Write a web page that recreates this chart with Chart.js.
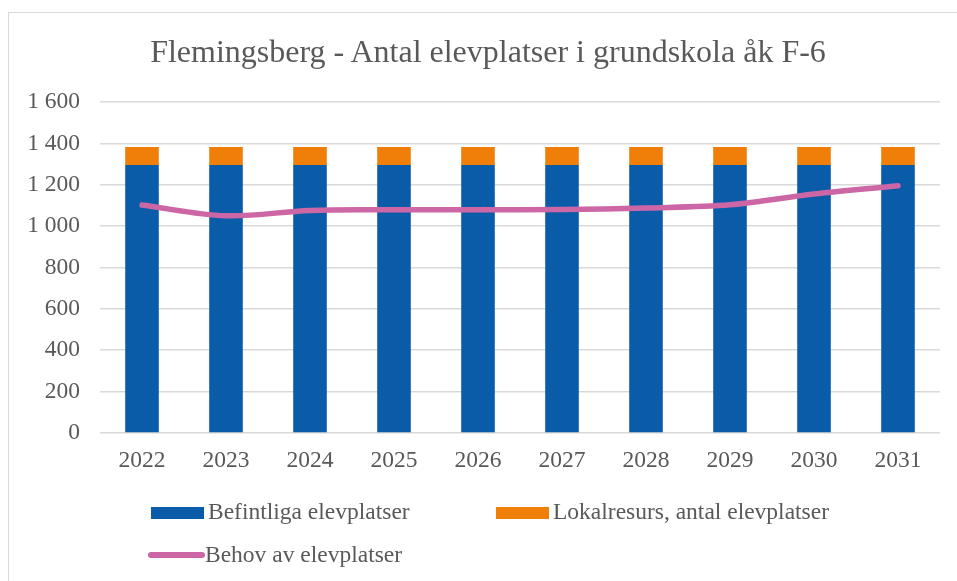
<!DOCTYPE html>
<html lang="sv">
<head>
<meta charset="utf-8">
<title>Flemingsberg - Antal elevplatser i grundskola åk F-6</title>
<script src="https://cdn.jsdelivr.net/npm/chart.js@4/dist/chart.umd.min.js"></script>
<style>
  html, body { margin: 0; padding: 0; background: #ffffff; }
  #wrap { position: relative; width: 957px; height: 581px; overflow: hidden; }
  #frame { position: absolute; left: 8px; top: 12px; width: 980px; height: 620px;
           border: 1px solid #d9d9d9; box-sizing: border-box; }
  #chart { position: absolute; left: 0; top: 0; }
  #title { position: absolute; left: 0; top: 35px; width: 976px; text-align: center;
           font-family: "Liberation Serif", "Times New Roman", serif; font-size: 32px;
           line-height: 1; color: #595959; white-space: nowrap; }
  .lg { position: absolute; font-family: "Liberation Serif", "Times New Roman", serif;
        font-size: 23.5px; color: #595959; white-space: nowrap; line-height: 1; }
  .sw { position: absolute; }
</style>
</head>
<body>
<div id="wrap">
  <div id="frame"></div>
  <canvas id="chart" width="957" height="581"></canvas>
  <div id="title"></div>
  <div id="legend"></div>
</div>
<script>
// Diagrammets rubrik
const titleText = 'Flemingsberg - Antal elevplatser i grundskola åk F-6';
// Årtal på x-axeln
const years = ['2022', '2023', '2024', '2025', '2026', '2027', '2028', '2029', '2030', '2031'];
// Befintliga elevplatser per år
const befintliga = [1295, 1295, 1295, 1295, 1295, 1295, 1295, 1295, 1295, 1295];
// Lokalresurs, antal elevplatser per år
const lokalresurs = [87, 87, 87, 87, 87, 87, 87, 87, 87, 87];
// Behov av elevplatser per år
const behov = [1102, 1050, 1076, 1079, 1079, 1080, 1088, 1103, 1155, 1195];
// Y-axelns skala
const yMin = 0, yMax = 1600, yStep = 200;

const FONT = '"Liberation Serif", "Times New Roman", serif';
const TEXT = '#595959';
const GRID = '#d9d9d9';

const series = [
  { label: 'Befintliga elevplatser', color: '#0b5ca8', kind: 'bar' },
  { label: 'Lokalresurs, antal elevplatser', color: '#f07f09', kind: 'bar' },
  { label: 'Behov av elevplatser', color: '#cd66a5', kind: 'line' }
];

const fmt = v => String(v).replace(/\B(?=(\d{3})+(?!\d))/g, '\u00a0');

document.getElementById('title').textContent = titleText;

const chart = new Chart(document.getElementById('chart'), {
  type: 'bar',
  data: {
    labels: years,
    datasets: [
      {
        label: series[0].label, data: befintliga, backgroundColor: series[0].color,
        stack: 's', order: 1, categoryPercentage: 0.4, barPercentage: 1, borderWidth: 0
      },
      {
        label: series[1].label, data: lokalresurs, backgroundColor: series[1].color,
        stack: 's', order: 1, categoryPercentage: 0.4, barPercentage: 1, borderWidth: 0
      },
      {
        type: 'line', label: series[2].label, data: behov, borderColor: series[2].color,
        backgroundColor: series[2].color, borderWidth: 5.5, pointRadius: 0,
        tension: 0.35, borderCapStyle: 'round', borderJoinStyle: 'round', fill: false, order: 0
      }
    ]
  },
  options: {
    responsive: false,
    animation: false,
    layout: { padding: { left: 0, right: 17, top: 102, bottom: 0 } },
    plugins: {
      legend: { display: false },
      tooltip: { enabled: false },
      title: { display: false }
    },
    scales: {
      x: {
        stacked: true,
        grid: { display: false, drawTicks: false },
        border: { display: false },
        ticks: { color: TEXT, font: { family: FONT, size: 23.5 }, padding: 14, maxRotation: 0 },
        afterFit: s => { s.height = 148; }
      },
      y: {
        stacked: true,
        min: yMin, max: yMax,
        grid: { color: GRID, lineWidth: 1.6, drawTicks: false },
        border: { display: false },
        ticks: {
          stepSize: yStep, color: TEXT, padding: 20,
          font: { family: FONT, size: 23.5 },
          callback: v => fmt(v)
        },
        afterFit: s => { s.width = 100; }
      }
    }
  }
});

// Förklaring under diagrammet
const legendBox = document.getElementById('legend');
const slots = [
  { x: 151, y: 507 },
  { x: 496, y: 507 },
  { x: 148, y: 552 }
];
series.forEach((s, i) => {
  const p = slots[i];
  const sw = document.createElement('div');
  sw.className = 'sw';
  if (s.kind === 'bar') {
    Object.assign(sw.style, { left: p.x + 'px', top: p.y + 'px', width: '53px', height: '12px', background: s.color });
  } else {
    Object.assign(sw.style, { left: p.x + 'px', top: p.y + 'px', width: '57px', height: '6px',
      background: s.color, borderRadius: '3px' });
  }
  legendBox.appendChild(sw);
  const t = document.createElement('div');
  t.className = 'lg';
  t.textContent = s.label;
  const textTop = s.kind === 'bar' ? p.y - 7 : p.y - 9;
  Object.assign(t.style, { left: (p.x + 57) + 'px', top: textTop + 'px' });
  legendBox.appendChild(t);
});
</script>
</body>
</html>
